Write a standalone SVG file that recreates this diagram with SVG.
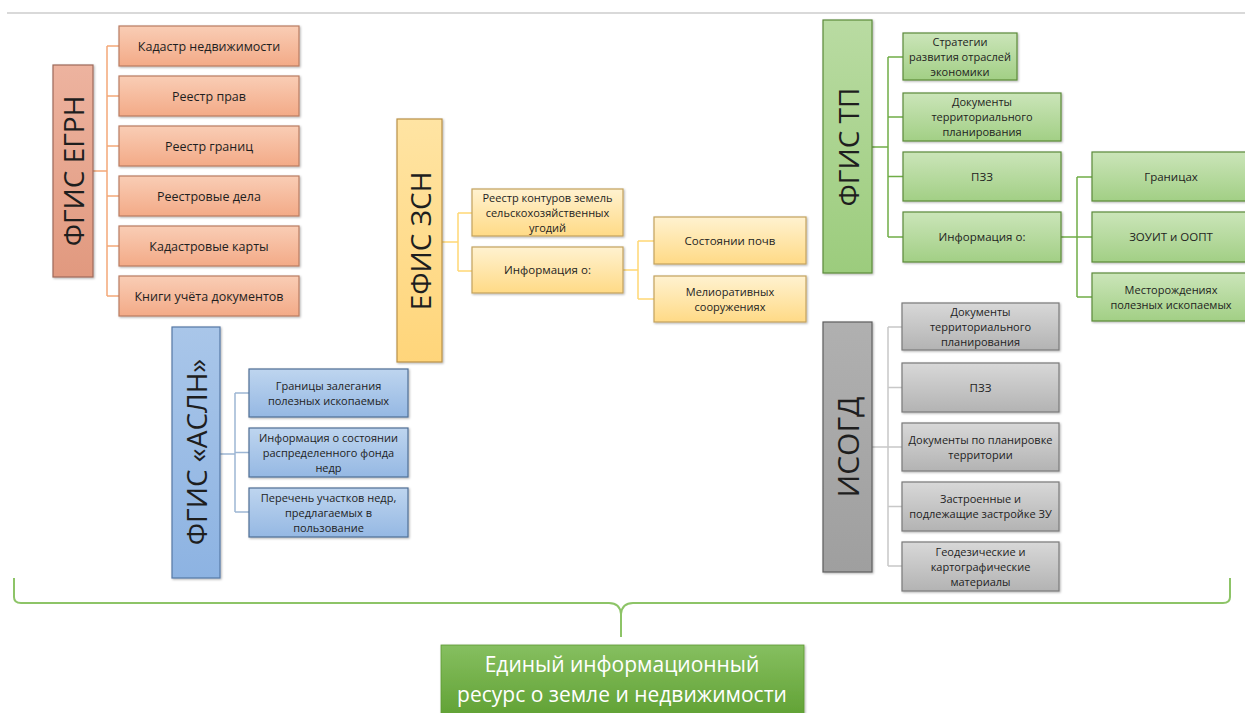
<svg xmlns="http://www.w3.org/2000/svg" width="1245" height="713" viewBox="0 0 1245 713">
<defs>
<linearGradient id="gOm" x1="0" y1="0" x2="0" y2="1"><stop offset="0" stop-color="#EDB39F"/><stop offset="1" stop-color="#E1997F"/></linearGradient>
<linearGradient id="gOc" x1="0" y1="0" x2="0" y2="1"><stop offset="0" stop-color="#F9CDB5"/><stop offset="1" stop-color="#F3AA87"/></linearGradient>
<linearGradient id="gBm" x1="0" y1="0" x2="0" y2="1"><stop offset="0" stop-color="#A9C6E9"/><stop offset="1" stop-color="#8DB3E2"/></linearGradient>
<linearGradient id="gBc" x1="0" y1="0" x2="0" y2="1"><stop offset="0" stop-color="#BED5EF"/><stop offset="1" stop-color="#95B8E3"/></linearGradient>
<linearGradient id="gYm" x1="0" y1="0" x2="0" y2="1"><stop offset="0" stop-color="#FFE4A3"/><stop offset="1" stop-color="#FFD57A"/></linearGradient>
<linearGradient id="gYc" x1="0" y1="0" x2="0" y2="1"><stop offset="0" stop-color="#FFF2D0"/><stop offset="1" stop-color="#FFDA86"/></linearGradient>
<linearGradient id="gGm" x1="0" y1="0" x2="0" y2="1"><stop offset="0" stop-color="#B9DBA2"/><stop offset="1" stop-color="#9CCC7D"/></linearGradient>
<linearGradient id="gGc" x1="0" y1="0" x2="0" y2="1"><stop offset="0" stop-color="#CBE5B9"/><stop offset="1" stop-color="#A2CF85"/></linearGradient>
<linearGradient id="gSm" x1="0" y1="0" x2="0" y2="1"><stop offset="0" stop-color="#B0B0B0"/><stop offset="1" stop-color="#9F9F9F"/></linearGradient>
<linearGradient id="gSc" x1="0" y1="0" x2="0" y2="1"><stop offset="0" stop-color="#D8D8D8"/><stop offset="1" stop-color="#B3B3B3"/></linearGradient>
<linearGradient id="gRes" x1="0" y1="0" x2="0" y2="1"><stop offset="0" stop-color="#86BF60"/><stop offset="1" stop-color="#5FA032"/></linearGradient>
<filter id="sh" x="-10%" y="-10%" width="130%" height="130%"><feDropShadow dx="1" dy="1" stdDeviation="0.8" flood-color="#000" flood-opacity="0.3"/></filter>
</defs>
<style>
text{font-family:"Open Sans","Liberation Sans",sans-serif;fill:#1e1e1e;text-anchor:middle}
.t{font-size:11.5px}
.m{font-size:11px}
.t13{font-size:12.5px}
.big{font-size:28px;dominant-baseline:central}
rect{filter:url(#sh)}
.om{fill:url(#gOm);stroke:#9E6A5A;stroke-width:1.2}
.oc{fill:url(#gOc);stroke:#B97C62;stroke-width:1.2}
.bm{fill:url(#gBm);stroke:#5678A6;stroke-width:1.2}
.bc{fill:url(#gBc);stroke:#4F6F95;stroke-width:1.2}
.ym{fill:url(#gYm);stroke:#B99248;stroke-width:1.2}
.yc{fill:url(#gYc);stroke:#C4A25E;stroke-width:1.2}
.gm{fill:url(#gGm);stroke:#5C8A3A;stroke-width:1.2}
.gc{fill:url(#gGc);stroke:#5C8A3A;stroke-width:1.2}
.sm{fill:url(#gSm);stroke:#5F5F5F;stroke-width:1.2}
.sc{fill:url(#gSc);stroke:#7A7A7A;stroke-width:1.2}
.cn{fill:none;stroke-width:1.5}
.co{stroke:#F4A878}
.cb{stroke:#9DB6D4}
.cy{stroke:#FFD874}
.cg{stroke:#70AD47}
.cs{stroke:#C8C8C8}
.res{font-size:21px;fill:#FFFFFF}
</style>
<line x1="7" y1="13" x2="1245" y2="13" stroke="#D9D9D9" stroke-width="2"/>

<g id="connectors">
<path class="cn co" d="M93,171 H107 M107,46 V296 M107,46 H119 M107,96 H119 M107,146 H119 M107,196 H119 M107,246 H119 M107,296 H119"/>
<path class="cn cb" d="M220,454 H235 M235,393 V512 M235,393 H249 M235,452.5 H249 M235,512 H249"/>
<path class="cn cy" d="M442,242 H458 M458,213 V271 M458,213 H472 M458,271 H472 M623,270 H638 M638,241 V299 M638,241 H654 M638,299 H654"/>
<path class="cn cg" d="M872,147 H888 M888,57 V237 M888,57 H903 M888,117 H903 M888,176.5 H903 M888,237 H903 M1061,237 H1077 M1077,177 V297 M1077,177 H1092 M1077,237 H1092 M1077,297 H1092"/>
<path class="cn cs" d="M872,447 H888 M888,327 V566 M888,327 H902 M888,387.5 H902 M888,447 H902 M888,506.5 H902 M888,566 H902"/>
<path fill="none" stroke="#8DC467" stroke-width="2" d="M14,578 V597 Q14,603 21,603 H609 Q620,603 621,614 V637 M621,614 Q622,603 633,603 H1223 Q1230,603 1230,597 V578"/>
</g>

<g id="egrn">
<rect class="om" x="53" y="65" width="40" height="212"/>
<text class="big" transform="translate(73,171) rotate(-90)">ФГИС ЕГРН</text>
</g>
<g id="egrn-1"><rect class="oc" x="119" y="26" width="180" height="40"/><text class="t13" x="209" y="50.5">Кадастр недвижимости</text></g>
<g id="egrn-2"><rect class="oc" x="119" y="76" width="180" height="40"/><text class="t13" x="209" y="100.5">Реестр прав</text></g>
<g id="egrn-3"><rect class="oc" x="119" y="126" width="180" height="40"/><text class="t13" x="209" y="150.5">Реестр границ</text></g>
<g id="egrn-4"><rect class="oc" x="119" y="176" width="180" height="40"/><text class="t13" x="209" y="200.5">Реестровые дела</text></g>
<g id="egrn-5"><rect class="oc" x="119" y="226" width="180" height="40"/><text class="t13" x="209" y="250.5">Кадастровые карты</text></g>
<g id="egrn-6"><rect class="oc" x="119" y="276" width="180" height="40"/><text class="t13" x="209" y="300.5">Книги учёта документов</text></g>

<g id="asln">
<rect class="bm" x="172" y="327" width="48" height="251"/>
<text class="big" transform="translate(196,452) rotate(-90)">ФГИС «АСЛН»</text>
</g>
<g id="asln-1"><rect class="bc" x="249" y="369" width="159" height="48"/><text class="m" x="328.5" y="389.5">Границы залегания<tspan x="328.5" dy="15">полезных ископаемых</tspan></text></g>
<g id="asln-2"><rect class="bc" x="249" y="428" width="159" height="49"/><text class="m" x="328.5" y="441.5">Информация о состоянии<tspan x="328.5" dy="15">распределенного фонда</tspan><tspan x="328.5" dy="15">недр</tspan></text></g>
<g id="asln-3"><rect class="bc" x="249" y="488" width="159" height="49"/><text class="m" x="328.5" y="501.5">Перечень участков недр,<tspan x="328.5" dy="15">предлагаемых в</tspan><tspan x="328.5" dy="15">пользование</tspan></text></g>

<g id="zsn">
<rect class="ym" x="397" y="119" width="45" height="243"/>
<text class="big" transform="translate(419.5,241) rotate(-90)">ЕФИС ЗСН</text>
</g>
<g id="zsn-1"><rect class="yc" x="472" y="189" width="151" height="47"/><text class="m" x="547.5" y="201.5">Реестр контуров земель<tspan x="547.5" dy="15">сельскохозяйственных</tspan><tspan x="547.5" dy="15">угодий</tspan></text></g>
<g id="zsn-2"><rect class="yc" x="472" y="247" width="151" height="46"/><text class="t" x="547.5" y="274">Информация о:</text></g>
<g id="zsn-3"><rect class="yc" x="654" y="217" width="152" height="47"/><text class="t" x="730" y="244.5">Состоянии почв</text></g>
<g id="zsn-4"><rect class="yc" x="654" y="276" width="152" height="46"/><text class="m" x="730" y="295.5">Мелиоративных<tspan x="730" dy="15">сооружениях</tspan></text></g>

<g id="tp">
<rect class="gm" x="823" y="20" width="49" height="253"/>
<text class="big" transform="translate(847.5,147) rotate(-90)">ФГИС ТП</text>
</g>
<g id="tp-1"><rect class="gc" x="903" y="33" width="114" height="47"/><text class="m" x="960" y="45.5">Стратегии<tspan x="960" dy="15">развития отраслей</tspan><tspan x="960" dy="15">экономики</tspan></text></g>
<g id="tp-2"><rect class="gc" x="903" y="93" width="158" height="48"/><text class="m" x="982" y="106">Документы<tspan x="982" dy="15">территориального</tspan><tspan x="982" dy="15">планирования</tspan></text></g>
<g id="tp-3"><rect class="gc" x="903" y="152" width="158" height="49"/><text class="t" x="982" y="180.5">ПЗЗ</text></g>
<g id="tp-4"><rect class="gc" x="903" y="212" width="158" height="50"/><text class="t" x="982" y="241">Информация о:</text></g>
<g id="tp-5"><rect class="gc" x="1092" y="152" width="160" height="49"/><text class="t" x="1171" y="180.5">Границах</text></g>
<g id="tp-6"><rect class="gc" x="1092" y="212" width="160" height="50"/><text class="t" x="1171" y="241">ЗОУИТ и ООПТ</text></g>
<g id="tp-7"><rect class="gc" x="1092" y="273" width="160" height="48"/><text class="m" x="1171" y="293.5">Месторождениях<tspan x="1171" dy="15">полезных ископаемых</tspan></text></g>

<g id="isogd">
<rect class="sm" x="823" y="322" width="49" height="250"/>
<text class="big" style="font-size:30px" transform="translate(847.5,447) rotate(-90)">ИСОГД</text>
</g>
<g id="isogd-1"><rect class="sc" x="902" y="303" width="157" height="47"/><text class="m" x="980.5" y="315.5">Документы<tspan x="980.5" dy="15">территориального</tspan><tspan x="980.5" dy="15">планирования</tspan></text></g>
<g id="isogd-2"><rect class="sc" x="902" y="363" width="157" height="49"/><text class="t" x="980.5" y="391.5">ПЗЗ</text></g>
<g id="isogd-3"><rect class="sc" x="902" y="423" width="157" height="48"/><text class="m" x="980.5" y="443.5">Документы по планировке<tspan x="980.5" dy="15">территории</tspan></text></g>
<g id="isogd-4"><rect class="sc" x="902" y="482" width="157" height="49"/><text class="m" x="980.5" y="503">Застроенные и<tspan x="980.5" dy="15">подлежащие застройке ЗУ</tspan></text></g>
<g id="isogd-5"><rect class="sc" x="902" y="542" width="157" height="49"/><text class="m" x="980.5" y="555.5">Геодезические и<tspan x="980.5" dy="15">картографические</tspan><tspan x="980.5" dy="15">материалы</tspan></text></g>

<g id="resource">
<rect x="441" y="645" width="363" height="75" fill="url(#gRes)" stroke="#5E9A34" stroke-width="0.8"/>
<text class="res" x="622" y="672">Единый информационный</text>
<text class="res" x="622" y="702">ресурс о земле и недвижимости</text>
</g>
</svg>
